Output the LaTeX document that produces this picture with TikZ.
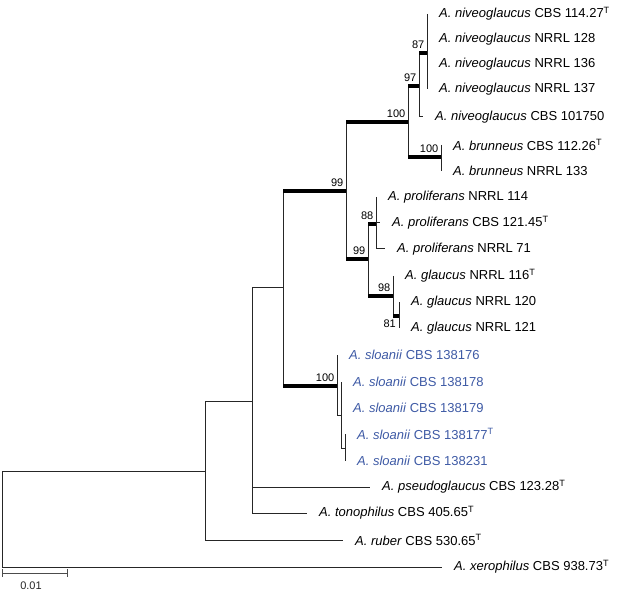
\documentclass[tikz,border=0pt]{standalone}
\usepackage{fontspec}
\setmainfont{Liberation Sans}
\definecolor{sloanblue}{RGB}{62,90,165}
\begin{document}
\begin{tikzpicture}[x=1pt,y=-1pt,
  br/.style={line width=1pt, draw=black!85},
  bold/.style={line width=4pt, draw=black},
  tip/.style={anchor=west, inner sep=0pt, xshift=12pt, font=\fontsize{13}{15}\selectfont},
  blu/.style={text=sloanblue},
  bs/.style={inner sep=0pt, font=\fontsize{11}{12}\selectfont, anchor=base east, xshift=-2.5pt, yshift=4.5pt},
  bsb/.style={inner sep=0pt, font=\fontsize{11}{12}\selectfont, anchor=north east, xshift=-3pt, yshift=-4pt},
  sbar/.style={line width=1pt, draw=black!70}]
\useasboundingbox (0,0) rectangle (623,593);
% internal nodes
\coordinate (R) at (2,519);
\coordinate (N1) at (205,471);
\coordinate (N2) at (252,401);
\coordinate (N3) at (283,288);
\coordinate (N4) at (346,191);
\coordinate (N5) at (408,122);
\coordinate (N6) at (419,86);
\coordinate (N7) at (427,53);
\coordinate (N8) at (441,157);
\coordinate (N9) at (368,259);
\coordinate (N10) at (376,224);
\coordinate (N11) at (393,296);
\coordinate (N12) at (399,316);
\coordinate (N13) at (337,386);
\coordinate (N14) at (341,415);
\coordinate (N15) at (345,448);
% tips
\coordinate (t1) at (427,14);
\coordinate (t2) at (427,39);
\coordinate (t3) at (427,64);
\coordinate (t4) at (427,89);
\coordinate (t5) at (423,117);
\coordinate (t6) at (441,145);
\coordinate (t7) at (441,171);
\coordinate (t8) at (376,197);
\coordinate (t9) at (380,223);
\coordinate (t10) at (385,249);
\coordinate (t11) at (393,276);
\coordinate (t12) at (399,302);
\coordinate (t13) at (399,328);
\coordinate (t14) at (337,355);
\coordinate (t15) at (341,382);
\coordinate (t16) at (341,408);
\coordinate (t17) at (345,434);
\coordinate (t18) at (345,461);
\coordinate (t19) at (370,487);
\coordinate (t20) at (307,513);
\coordinate (t21) at (343,540);
\coordinate (t22) at (442,567);
% verticals
\draw[br] (R|-N1) -- (R|-t22);
\draw[br] (N1|-N2) -- (N1|-t21);
\draw[br] (N2|-N3) -- (N2|-t20);
\draw[br] (N3|-N4) -- (N3|-N13);
\draw[br] (N4|-N5) -- (N4|-N9);
\draw[br] (N5|-N6) -- (N5|-N8);
\draw[br] (N6|-N7) -- (N6|-t5);
\draw[br] (N7|-t1) -- (N7|-t4);
\draw[br] (N8|-t6) -- (N8|-t7);
\draw[br] (N9|-N10) -- (N9|-N11);
\draw[br] (N10|-t8) -- (N10|-t10);
\draw[br] (N11|-t11) -- (N11|-N12);
\draw[br] (N12|-t12) -- (N12|-t13);
\draw[br] (N13|-t14) -- (N13|-N14);
\draw[br] (N14|-t15) -- (N14|-N15);
\draw[br] (N15|-t17) -- (N15|-t18);
% horizontals
\draw[br] (R|-N1) -- (N1);
\draw[br] (R|-t22) -- (t22);
\draw[br] (N1|-N2) -- (N2);
\draw[br] (N1|-t21) -- (t21);
\draw[br] (N2|-N3) -- (N3);
\draw[br] (N2|-t19) -- (t19);
\draw[br] (N2|-t20) -- (t20);
\draw[bold] (N3|-N4) -- (N4);
\draw[bold] (N3|-N13) -- (N13);
\draw[bold] (N4|-N5) -- (N5);
\draw[bold] (N4|-N9) -- (N9);
\draw[bold] (N5|-N6) -- (N6);
\draw[bold] (N5|-N8) -- (N8);
\draw[bold] (N6|-N7) -- (N7);
\draw[br] (N6|-t5) -- (t5);
\draw[bold] (N9|-N10) -- (N10);
\draw[bold] (N9|-N11) -- (N11);
\draw[br] (N10|-t9) -- (t9);
\draw[br] (N10|-t10) -- (t10);
\draw[bold] (N11|-N12) -- (N12);
\draw[br] (N13|-N14) -- (N14);
\draw[br] (N14|-N15) -- (N15);
% bootstrap values
\node[bs] (b4) at (N4) {99};
\node[bs] (b5) at (N5) {100};
\node[bs] (b6) at (N6) {97};
\node[bs] (b7) at (N7) {87};
\node[bs] (b8) at (N8) {100};
\node[bs] (b9) at (N9) {99};
\node[bs] (b10) at (N10) {88};
\node[bs] (b11) at (N11) {98};
\node[bsb] (b12) at (N12) {81};
\node[bs] (b13) at (N13) {100};
% tip labels
\node[tip] (l1) at (t1) {\textit{A. niveoglaucus} CBS 114.27\textsuperscript{T}};
\node[tip] (l2) at (t2) {\textit{A. niveoglaucus} NRRL 128};
\node[tip] (l3) at (t3) {\textit{A. niveoglaucus} NRRL 136};
\node[tip] (l4) at (t4) {\textit{A. niveoglaucus} NRRL 137};
\node[tip] (l5) at (t5) {\textit{A. niveoglaucus} CBS 101750};
\node[tip] (l6) at (t6) {\textit{A. brunneus} CBS 112.26\textsuperscript{T}};
\node[tip] (l7) at (t7) {\textit{A. brunneus} NRRL 133};
\node[tip] (l8) at (t8) {\textit{A. proliferans} NRRL 114};
\node[tip] (l9) at (t9) {\textit{A. proliferans} CBS 121.45\textsuperscript{T}};
\node[tip] (l10) at (t10) {\textit{A. proliferans} NRRL 71};
\node[tip] (l11) at (t11) {\textit{A. glaucus} NRRL 116\textsuperscript{T}};
\node[tip] (l12) at (t12) {\textit{A. glaucus} NRRL 120};
\node[tip] (l13) at (t13) {\textit{A. glaucus} NRRL 121};
\node[tip,blu] (l14) at (t14) {\textit{A. sloanii} CBS 138176};
\node[tip,blu] (l15) at (t15) {\textit{A. sloanii} CBS 138178};
\node[tip,blu] (l16) at (t16) {\textit{A. sloanii} CBS 138179};
\node[tip,blu] (l17) at (t17) {\textit{A. sloanii} CBS 138177\textsuperscript{T}};
\node[tip,blu] (l18) at (t18) {\textit{A. sloanii} CBS 138231};
\node[tip] (l19) at (t19) {\textit{A. pseudoglaucus} CBS 123.28\textsuperscript{T}};
\node[tip] (l20) at (t20) {\textit{A. tonophilus} CBS 405.65\textsuperscript{T}};
\node[tip] (l21) at (t21) {\textit{A. ruber} CBS 530.65\textsuperscript{T}};
\node[tip] (l22) at (t22) {\textit{A. xerophilus} CBS 938.73\textsuperscript{T}};
% scale bar
\coordinate (s1) at (2,573);
\coordinate (s2) at (67,573);
\draw[sbar] (s1) -- (s2);
\draw[sbar] ([yshift=4pt]s1) -- ([yshift=-4pt]s1);
\draw[sbar] ([yshift=4pt]s2) -- ([yshift=-4pt]s2);
\node[font=\fontsize{11}{12}\selectfont, text=black!85, inner sep=0pt] (sl) at (31,586) {0.01};
\end{tikzpicture}
\end{document}
